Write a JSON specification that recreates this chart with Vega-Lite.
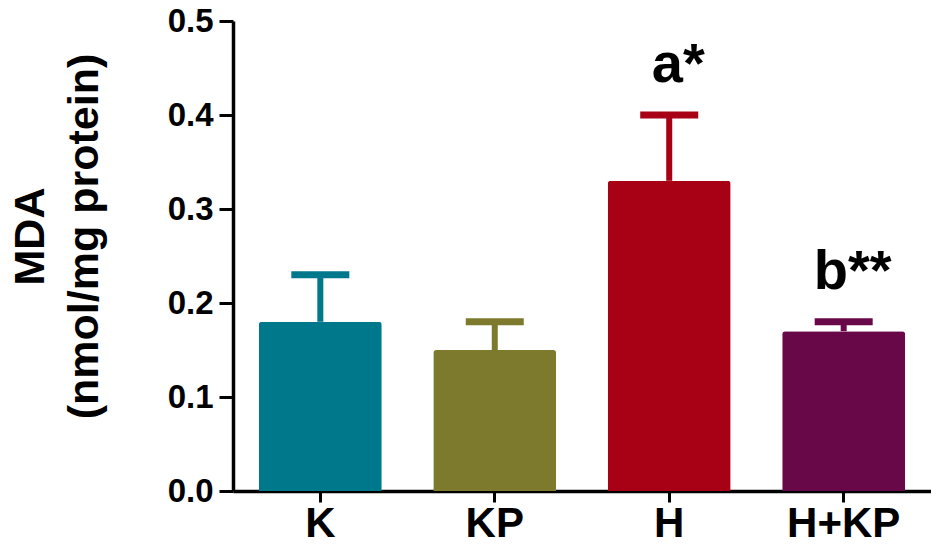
{
  "$schema": "https://vega.github.io/schema/vega-lite/v6.json",
  "width": 698,
  "height": 470,
  "autosize": {"type": "none"},
  "padding": {"left": 233, "top": 21, "right": 0, "bottom": 58},
  "background": "white",
  "config": {"view": {"stroke": null}, "font": "Liberation Sans"},
  "data": {
    "values": [
      {"group": "K", "mean": 0.18, "upper": 0.23, "label": ""},
      {"group": "KP", "mean": 0.15, "upper": 0.18, "label": ""},
      {"group": "H", "mean": 0.33, "upper": 0.40, "label": "a*"},
      {"group": "H+KP", "mean": 0.17, "upper": 0.18, "label": "b**"}
    ]
  },
  "encoding": {
    "x": {
      "field": "group",
      "type": "nominal",
      "sort": null,
      "scale": {"paddingInner": 0.295, "paddingOuter": 0.148},
      "axis": {
        "title": null,
        "labelAngle": 0,
        "labelFontSize": 42,
        "labelFontWeight": "bold",
        "labelColor": "black",
        "labelPadding": 1,
        "domainColor": "black",
        "domainWidth": 3.5,
        "tickColor": "black",
        "tickWidth": 3,
        "tickSize": 11
      }
    }
  },
  "layer": [
    {
      "mark": {"type": "bar", "cornerRadiusTopLeft": 3, "cornerRadiusTopRight": 3},
      "encoding": {
        "y": {
          "field": "mean",
          "type": "quantitative",
          "scale": {"domain": [0, 0.5]},
          "axis": {
            "values": [0, 0.1, 0.2, 0.3, 0.4, 0.5],
            "format": ".1f",
            "grid": false,
            "domainColor": "black",
            "domainWidth": 3.5,
            "tickColor": "black",
            "tickWidth": 3,
            "tickSize": 14,
            "labelFontSize": 33,
            "labelFontWeight": "bold",
            "labelColor": "black",
            "labelPadding": 6,
            "title": ["MDA", "(nmol/mg protein)"],
            "titleFontSize": 43,
            "titleFontWeight": "bold",
            "titleColor": "black",
            "titleX": -181,
            "titleY": 215,
            "titleLineHeight": 54
          }
        },
        "color": {
          "field": "group",
          "type": "nominal",
          "scale": {"domain": ["K", "KP", "H", "H+KP"], "range": ["#00788C", "#7D7A2E", "#A80014", "#690848"]},
          "legend": null
        }
      }
    },
    {
      "mark": {"type": "rule", "strokeWidth": 6},
      "encoding": {
        "y": {"field": "mean", "type": "quantitative"},
        "y2": {"field": "upper"},
        "color": {"field": "group", "type": "nominal", "legend": null}
      }
    },
    {
      "mark": {"type": "tick", "thickness": 7, "size": 58, "opacity": 1},
      "encoding": {
        "y": {"field": "upper", "type": "quantitative"},
        "color": {"field": "group", "type": "nominal", "legend": null}
      }
    },
    {
      "mark": {"type": "text", "fontSize": 56, "fontWeight": "bold", "baseline": "alphabetic", "dy": -33, "dx": 9, "color": "black"},
      "encoding": {
        "y": {"field": "upper", "type": "quantitative"},
        "text": {"field": "label"}
      }
    }
  ]
}
